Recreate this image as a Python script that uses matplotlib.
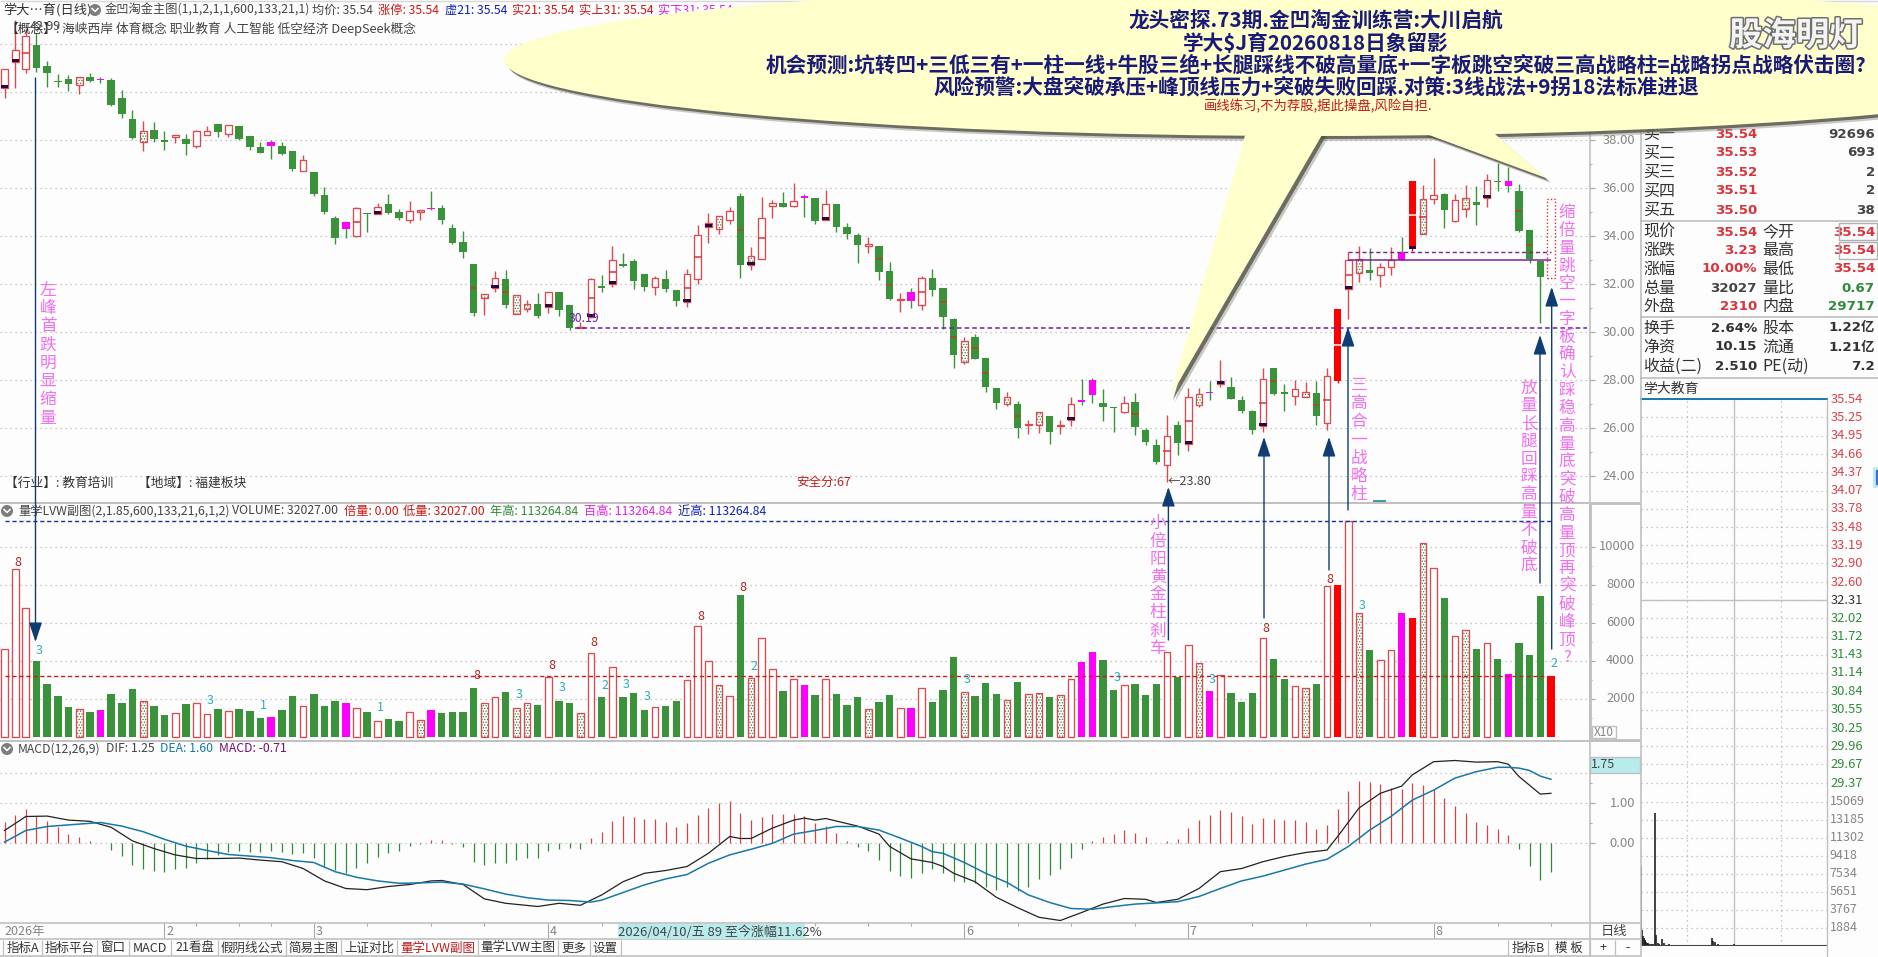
import matplotlib
matplotlib.use('Agg')
import matplotlib.pyplot as plt
from matplotlib.patches import Ellipse, Polygon, Rectangle, Circle
import matplotlib.patheffects as pe

plt.rcParams['font.family'] = ['Noto Sans CJK SC', 'DejaVu Sans']
plt.rcParams['hatch.linewidth'] = 0.6
plt.rcParams['axes.unicode_minus'] = False

# candles
body_top = [40.96,41.77,42.35,41.97,41.10,40.47,40.56,40.63,40.63,40.54,
            40.52,39.77,38.89,38.39,38.43,38.02,38.24,38.06,38.39,38.38,
            38.68,38.63,38.60,38.16,37.73,37.91,37.77,37.56,37.16,36.68,
            35.71,34.77,34.60,35.17,34.96,35.21,35.34,35.02,35.06,35.09,
            35.16,35.18,34.34,33.77,32.84,31.59,32.25,32.21,31.56,31.17,
            31.18,31.67,31.67,31.14,30.24,32.21,31.93,33.02,32.83,32.97,
            32.43,32.26,32.22,31.76,32.42,34.04,34.54,34.85,35.04,35.68,
            33.17,34.75,35.37,35.37,35.49,35.67,35.58,35.33,35.35,34.37,
            34.05,33.67,33.60,32.55,31.39,31.67,32.25,32.25,31.85,30.55,
            29.62,29.80,28.92,27.68,27.29,27.01,26.18,26.67,26.51,26.12,
            27.01,27.17,28.01,27.04,26.90,27.04,27.10,25.93,25.31,25.67,
            26.14,27.29,27.42,27.51,27.97,27.72,27.17,26.72,28.04,28.51,
            27.50,27.62,27.50,27.47,28.17,30.97,33.01,33.04,32.60,32.71,
            33.00,33.35,36.30,35.54,35.71,35.76,35.50,35.58,35.42,36.33,
            36.31,36.30,35.89,34.26,32.97,35.54]
body_bot = [40.17,41.28,40.96,41.03,40.82,40.43,40.35,40.29,40.46,40.52,
            39.47,39.10,38.10,37.95,38.06,37.91,38.13,37.85,37.78,38.21,
            38.35,38.28,38.06,37.73,37.49,37.78,37.43,36.81,36.74,35.77,
            35.02,33.91,34.32,34.00,34.91,34.92,34.99,34.77,34.68,35.00,
            35.13,34.70,33.72,33.35,30.82,31.42,31.84,31.14,30.78,30.99,
            30.68,31.07,30.91,30.17,30.19,30.63,31.86,32.00,32.76,32.15,
            31.90,31.87,31.80,31.32,31.28,32.21,34.40,34.29,34.69,32.82,
            32.82,33.07,35.28,35.22,35.26,35.61,34.65,34.69,34.39,34.10,
            33.64,33.61,32.51,31.39,31.36,31.30,31.15,31.76,30.64,29.05,
            28.78,28.89,27.72,27.05,27.03,26.01,26.15,26.15,25.85,26.08,
            26.36,27.11,27.39,26.90,26.86,26.69,26.07,25.44,24.60,24.46,
            25.40,25.35,26.99,27.48,27.86,27.24,26.74,25.94,26.11,27.43,
            27.44,27.36,27.32,26.51,26.21,27.99,31.80,32.46,32.47,32.40,
            32.71,33.01,33.49,34.08,35.54,35.11,34.65,35.12,35.32,35.61,
            36.28,36.11,34.22,33.05,32.32,32.28]
high = [40.96,43.02,42.67,42.46,41.31,40.77,40.72,40.63,40.79,40.64,
        40.59,40.10,39.27,38.81,38.77,38.39,38.24,38.27,38.43,38.60,
        38.68,38.63,38.60,38.18,37.95,38.02,37.93,37.56,37.39,36.68,
        36.06,34.85,34.60,35.21,34.96,35.38,35.77,35.13,35.47,35.09,
        35.89,35.29,34.53,34.22,32.84,31.59,32.56,32.60,31.56,31.35,
        31.63,31.67,31.67,31.14,30.45,32.25,32.39,33.60,33.32,33.04,
        32.43,32.35,32.60,31.76,32.62,34.47,34.96,34.85,35.21,35.79,
        33.55,35.62,35.51,35.85,36.21,35.75,35.58,35.93,35.35,34.54,
        34.12,33.99,33.60,32.92,31.62,31.83,32.35,32.62,31.85,30.61,
        29.82,29.92,28.92,27.68,27.53,27.12,26.35,26.67,26.51,26.35,
        27.32,28.04,28.08,27.62,26.90,27.35,27.46,26.00,25.54,26.55,
        26.31,27.67,27.67,27.97,28.85,28.14,27.36,26.76,28.50,28.51,
        27.83,28.01,27.94,27.99,28.50,30.97,33.36,33.60,33.50,32.87,
        33.54,33.99,36.30,36.14,37.25,35.79,35.75,36.14,36.10,36.60,
        37.04,36.90,36.17,34.26,32.97,35.54]
low = [39.78,40.20,40.82,40.86,40.24,40.24,40.07,39.91,40.45,40.38,
       39.41,38.92,38.04,37.57,37.95,37.60,37.88,37.39,37.67,38.21,
       38.14,38.14,38.02,37.60,37.49,37.24,37.39,36.73,36.71,35.66,
       34.95,33.68,33.91,33.99,34.16,34.92,34.91,34.68,34.57,34.68,
       35.10,34.53,33.68,33.10,30.70,30.72,31.66,31.03,30.75,30.86,
       30.61,30.79,30.66,30.10,30.19,30.59,31.70,31.88,32.71,31.80,
       31.74,31.55,31.69,31.10,31.07,32.01,33.74,34.10,34.51,32.26,
       32.60,33.07,34.76,35.21,35.21,34.82,34.53,34.69,34.18,33.90,
       32.90,33.32,32.18,31.35,30.85,31.03,30.93,31.51,30.12,28.53,
       28.68,28.89,27.53,26.80,26.93,25.61,25.76,25.82,25.35,25.76,
       26.10,26.97,27.07,26.31,25.86,26.62,25.72,25.31,24.50,23.78,
       24.90,25.05,26.90,27.18,27.74,27.24,26.65,25.76,25.86,27.39,
       26.72,26.97,27.32,26.14,25.93,27.87,30.55,32.11,32.18,31.90,
       32.40,33.01,33.40,34.08,35.33,34.36,34.61,34.80,34.47,35.24,
       35.89,35.86,34.19,32.90,30.37,32.28]
# r hollow up, g down, d dotted up, R solid red, m magenta
kinds = ("rrrggggdgm" "gggdggrgrr" "grgggmggrg" "ggmrgrggrd" "mggggdrgdd"
         "grggdrgrgg" "grggrrrdrg" "drrgrmgrgg" "gdggrmrggg" "dgggdgddgd"
         "rmmggrgggr" "grdmrgggrg" "grdgrRrdgr" "rmRdrgrdgr" "gmgggR")
mid_marks = [2,33,44,47,55,57,64,65,69,71,82,83,86,88,89,91,92,95,106,109,111,
             118,119,123,124,125,126,132,133,142,143]
low_marks = [0,1,35,46,51,55,57,64,66,70,77,100,111,114,118,126,132,139]

volume = [4595,8805,6753,3982,2771,2140,1561,1456,1298,1403,
          2245,1772,2508,1877,1614,1140,1228,1719,1754,1175,
          1456,1351,1456,1351,982,1035,1403,2140,1596,2245,
          1614,1877,1772,1508,1298,824,930,824,1280,877,
          1403,1245,1298,1298,2561,1754,2070,2350,1491,1754,
          1666,3122,1877,1772,1228,4385,2087,3683,2087,2298,
          1403,1544,1614,1877,2964,5806,3964,2719,2122,7455,
          3070,5174,3543,2403,3017,2719,2193,3017,2245,1666,
          2087,1456,1824,2193,1491,1508,2543,1824,2456,4192,
          2333,2140,2824,2245,1929,2877,2245,2280,2087,2175,
          3017,3929,4455,4034,2456,2701,2771,2193,2771,4455,
          3140,4806,3859,2403,3227,2280,1824,2298,5174,4087,
          3034,2649,2543,2771,7911,7981,11326,6490,4560,4017,
          4543,6507,6244,10173,8858,7297,5280,5595,4613,4911,
          4087,3298,4911,4297,7402,3203]
vol_tag_i = [1,3,19,24,35,44,48,51,52,55,56,58,60,65,69,70,90,104,113,118,124,127,145]
vol_tag_s = ['8','3','3','1','1','8','3','8','3','8','2','3','3','8','8','2','3','3','3','8','8','3','2']
vol_tag_v = [9173,4543,1894,1666,1544,3210,2228,3771,2596,4964,2719,2754,2105,6314,7858,
             3683,3017,3122,3034,5683,8279,6911,3859]

macd = [.54,.71,.86,.68,.56,.40,.23,.16,.06,0,
        -.17,-.32,-.54,-.63,-.69,-.71,-.64,-.61,-.50,-.40,
        -.29,-.22,-.19,-.22,-.21,-.19,-.21,-.27,-.25,-.37,
        -.60,-.67,-.73,-.61,-.50,-.33,-.23,-.19,-.06,-.01,
        .08,.09,-.01,-.08,-.47,-.54,-.50,-.50,-.42,-.37,
        -.36,-.18,-.14,-.12,-.14,.14,.29,.56,.68,.65,
        .61,.61,.53,.40,.50,.71,.88,1.02,1.06,.76,
        .58,.66,.73,.73,.73,.68,.50,.43,.27,.06,
        -.08,-.19,-.42,-.68,-.82,-.86,-.73,-.65,-.73,-.94,
        -.96,-1.0,-1.10,-1.17,-1.08,-1.19,-1.10,-.90,-.79,-.64,
        -.37,-.14,.06,.16,.24,.33,.26,.16,.01,.06,
        .11,.38,.58,.71,.83,.78,.68,.48,.63,.61,
        .58,.58,.53,.36,.46,.86,1.31,1.56,1.53,1.48,
        1.38,1.36,1.51,1.46,1.36,1.13,.93,.76,.53,.46,
        .36,.21,-.14,-.57,-.92,-.71]
dif_i = [0,2,4,6,8,10,12,14,16,18,20,22,24,26,28,30,32,34,36,38,40,41,43,45,47,50,52,54,56,58,
         60,62,64,66,68,69,70,72,74,75,76,77,80,82,83,85,87,88,89,91,93,95,97,99,101,103,105,107,108,110,
         112,114,116,118,120,122,124,125,127,129,131,132,134,136,138,140,141,142,144,145]
dif = [.32,.67,.68,.58,.55,.40,.06,-.13,-.29,-.38,-.38,-.37,-.42,-.46,-.63,-.94,-1.13,-1.16,-1.08,-1.03,
       -.94,-.93,-1.03,-1.39,-1.50,-1.58,-1.50,-1.55,-1.29,-.96,-.75,-.68,-.58,-.25,.17,.12,.12,.38,.58,.63,
       .58,.62,.43,.23,-.08,-.39,-.48,-.58,-.75,-.96,-1.35,-1.61,-1.85,-1.93,-1.73,-1.52,-1.38,-1.40,-1.48,-1.40,
       -1.13,-.71,-.63,-.46,-.33,-.23,-.17,.17,.88,1.25,1.43,1.71,2.04,2.07,2.03,2.04,1.98,1.67,1.23,1.25]
dea_i = [0,2,4,6,8,9,11,13,15,17,19,21,23,25,27,29,31,33,35,37,39,41,43,45,47,49,51,53,55,56,
         58,60,62,64,66,68,70,72,74,76,78,80,82,84,86,87,88,90,92,94,96,98,100,102,104,106,108,110,112,114,
         116,118,120,122,124,126,128,130,132,134,136,138,140,141,142,143,144,145]
dea = [.03,.32,.42,.46,.50,.52,.43,.29,.10,-.07,-.18,-.28,-.32,-.36,-.43,-.48,-.71,-.85,-.94,-1.0,
       -.99,-.97,-1.02,-1.14,-1.27,-1.36,-1.42,-1.43,-1.47,-1.42,-1.23,-1.04,-.89,-.78,-.50,-.29,-.15,0,.23,.32,
       .42,.42,.33,.13,-.08,-.21,-.25,-.48,-.75,-.98,-1.29,-1.48,-1.63,-1.65,-1.58,-1.52,-1.49,-1.46,-1.33,-1.13,
       -.94,-.82,-.67,-.52,-.40,-.08,.33,.67,1.08,1.33,1.63,1.79,1.90,1.90,1.88,1.82,1.68,1.60]

price_ticks = [24,26,28,30,32,34,36,38,40,42]
vol_ticks = [2000,4000,6000,8000,10000]
month_i = [15,29,51,90,111,134]
month_s = ['2','3','4','6','7','8']
minor_i = [18,22,25,34,40,45,56,76,81,85,95,100,106,117,122,128,140,145]

bal_lines = ['龙头密探.73期.金凹淘金训练营:大川启航', '学大$J育20260818日象留影',
             '机会预测:坑转凹+三低三有+一柱一线+牛股三绝+长腿踩线不破高量底+一字板跳空突破三高战略柱=战略拐点战略伏击圈?',
             '风险预警:大盘突破承压+峰顶线压力+突破失败回踩.对策:3线战法+9拐18法标准进退']
tabs = ['指标A','指标平台','窗口','MACD','21看盘','假阴线公式','简易主图','上证对比','量学LVW副图','量学LVW主图','更多','设置']

buy_name = ['买一','买二','买三','买四','买五']
buy_price = ['35.54','35.53','35.52','35.51','35.50']
buy_size = ['92696','693','2','2','38']

min_price_red = [35.54,35.25,34.95,34.66,34.37,34.07,33.78,33.48,33.19,32.90,32.60]
min_price_green = [32.02,31.72,31.43,31.14,30.84,30.55,30.25,29.96,29.67,29.37]
min_vol_ticks = [1884,3767,5651,7534,9418,11302,13185,15069]
min_i = [0,1,2,3,4,5,6,7,8,9,10,12,14,16,19,20,22,24,27,30,36,42,50,60,70,80,92,93,96,100,
         110,120,130,140,150,160,170,180,190,200,210,220,230,239]
min_v = [8354,3000,1700,1000,800,600,500,400,300,250,300,250,200,200,13920,1100,300,250,700,300,200,150,150,150,150,150,800,500,400,200,
         150,200,150,120,150,120,100,150,120,100,100,120,100,150]

W, H = 1878, 957
GREEN, HOLLOW, GRAY = '#3A923A', '#DC4A50', '#C0C0C0'
NAVY, PINK = '#0E3D73', '#F070F0'

fig = plt.figure(figsize=(W/100, H/100), dpi=100, facecolor='#FDFDFD')

def px_axes(x0, y0, x1, y1, z=1):
    ax = fig.add_axes([x0/W, 1-y1/H, (x1-x0)/W, (y1-y0)/H], zorder=z)
    ax.patch.set_alpha(0)
    for s in ax.spines.values():
        s.set_visible(False)
    return ax

n = len(volume)
xs = list(range(n))
xlim = (-0.422, 148.57)

def dotted(ax, y):
    ax.axhline(y, color='#B4B4B4', lw=0.9, ls=(0, (1, 3)), zorder=0)

def right_axis(ax, ticks, minors, fmt):
    ax.set_xlim(*xlim)
    ax.set_xticks([])
    ax.yaxis.tick_right()
    ax.set_yticks(ticks)
    ax.set_yticks(minors, minor=True)
    ax.tick_params(axis='y', which='major', length=4.4, width=.8, color='#A8A8A8', labelright=False)
    ax.tick_params(axis='y', which='minor', length=2.4, width=.8, color='#A8A8A8', labelright=False)
    for tk in ticks:
        dotted(ax, tk)
        ax.text(1635/1589, tk, fmt(tk), transform=ax.get_yaxis_transform(), ha='right', va='center',
                color='#858585', fontsize=9.3)

def draw_bars(ax, x, bottom, height, kind_list, width=0.63):
    # common bar drawing for candles and volume
    for k, col in (('g', GREEN), ('R', '#FF0000'), ('m', '#FF00FF')):
        idx = [j for j, q in enumerate(kind_list) if q == k]
        ax.bar([x[j] for j in idx], [height[j] for j in idx], width + .07, [bottom[j] for j in idx],
               color=col, lw=0, zorder=3)
    idx = [j for j, q in enumerate(kind_list) if q == 'r']
    ax.bar([x[j] for j in idx], [height[j] for j in idx], width, [bottom[j] for j in idx],
           facecolor='#FFFFFF', edgecolor=HOLLOW, lw=.95, zorder=3)
    idx = [j for j, q in enumerate(kind_list) if q == 'd']
    bx = [x[j] for j in idx]
    bh = [height[j] for j in idx]
    bb = [bottom[j] for j in idx]
    ax.bar(bx, bh, width, bb, facecolor='#FFFFFF', edgecolor='#2E7D32', hatch='......', lw=0, zorder=3)
    ax.bar(bx, bh, width, bb, fill=False, edgecolor=HOLLOW, lw=.95, zorder=4)

# main panel
ax = px_axes(0, 0, 1589, 502.7, 2)
ax.set_ylim(24 + (476.3-502.7)/24, 24 + 476.3/24)
right_axis(ax, price_ticks[:8], [25,27,29,31,33,35,37], lambda v: '%.2f' % v)
for tk in price_ticks[8:]:
    dotted(ax, tk)
wick_col = [GREEN if k in 'gm' else ('#FF0000' if k == 'R' else HOLLOW) for k in kinds]
ax.vlines(xs[:-1], low[:-1], high[:-1], colors=wick_col[:-1], lw=1.0, zorder=2)
heights = [max(a-b, .03) for a, b in zip(body_top, body_bot)]
draw_bars(ax, xs[:-1], body_bot[:-1], heights[:-1], kinds[:-1])
m_i = [i for i, k in enumerate(kinds) if k == 'm']
ax.bar(m_i, [heights[i]*.55 for i in m_i], .7, [body_top[i]-heights[i]*.55 for i in m_i],
       color='#FF00FF', lw=0, zorder=4)
for i in mid_marks:
    c = '#FFFFFF' if kinds[i] == 'R' else ('#B5451F' if kinds[i] == 'g' else '#D8343C')
    y = (body_top[i]+body_bot[i])/2
    ax.hlines(y, i-.33, i+.33, color=c, lw=1.1, zorder=5)
for i in low_marks:
    ax.bar(i, .12, .68, body_bot[i], color='#2A0A3C', lw=0, zorder=5)
# last bar is a dotted drawing box
ax.add_patch(Rectangle((145-.38, body_bot[145]), .76, body_top[145]-body_bot[145], fill=False,
                       ec='#E03030', lw=1, ls=(0, (1, 1.5)), zorder=4))
ax.hlines(30.17, 53.5, 148.4, color='#6A1FA8', lw=1.1, ls=(0, (3, 2)), zorder=5)
ax.hlines(33.36, 126, 145, color='#7A2590', lw=1.0, ls=(0, (3, 2)), zorder=5)
ax.hlines(33.01, 126, 145.0, color='#7A2590', lw=1.1, zorder=5)

# volume panel
axv = px_axes(0, 502.7, 1589, 740, 2)
axv.set_ylim(-174, 12308)
right_axis(axv, vol_ticks, [1000,3000,5000,7000,9000], lambda v: '%d' % v)
draw_bars(axv, xs, [0]*n, volume, kinds)
axv.hlines(11326, 0, 145.1, color='#1A2FA0', lw=1.0, ls=(0, (3, 2)), zorder=5)
axv.hlines(3203, 0, 145.1, color='#C02020', lw=1.0, ls=(0, (3, 2)), zorder=5)
for i, s, v in zip(vol_tag_i, vol_tag_s, vol_tag_v):
    axv.text(i+.28, v, s, color='#B02020' if s == '8' else '#2AAFB5', fontsize=9, ha='center', va='center', zorder=6)

# macd panel
axm = px_axes(0, 740, 1589, 923, 2)
axm.set_ylim((843.3-923)/40, (843.3-740)/40)
right_axis(axm, [0, 1], [.5, 1.5], lambda v: '%.2f' % v)
dotted(axm, 1.75)
macd_col = ['#D8434B' if v > 0 else '#2E8B3A' for v in macd]
axm.vlines(xs, 0, macd, colors=macd_col, lw=.9, zorder=2)
axm.plot(dif_i, dif, color='#222222', lw=.9, zorder=3)
axm.plot(dea_i, dea, color='#1878A8', lw=1.1, zorder=3)

# date strip
axd = px_axes(0, 923, 1589, 939, 2)
axd.set_xlim(*xlim)
axd.set_ylim(1, 0)
axd.set_xticks([])
axd.set_yticks([])
axd.vlines(month_i, 0, 1, color='#A8A8A8', lw=.8)
axd.vlines(minor_i, 0, .2, color='#A8A8A8', lw=.8)
for i, s in zip(month_i, month_s):
    axd.text(i+.15, .55, s, color='#858585', fontsize=9, va='center')

# minute chart, price part
axp = px_axes(1640.7, 399.3, 1827.3, 801.7, 2)
axp.set_xlim(0, 240)
axp.set_ylim(29.07, 35.54)
axp.set_xticks([])
axp.set_yticks([])
for v in min_price_red + [32.31] + min_price_green:
    dotted(axp, v)
    col = '#D8434B' if v > 32.31 else ('#2E8B3A' if v < 32.31 else '#333333')
    axp.text(1.018, v, '%.2f' % v, transform=axp.get_yaxis_transform(), color=col, fontsize=9.3, va='center')
axp.axhline(32.31, color=GRAY, lw=1)
axp.vlines(120, 29.07, 35.54, color=GRAY, lw=1)
axp.vlines([60, 180], 29.07, 35.54, color='#B4B4B4', lw=.9, ls=(0, (1, 3)))
axp.plot([0, 239], [35.54, 35.54], color='#1878A8', lw=1.4, clip_on=False)

# minute chart, volume part
axq = px_axes(1640.7, 801.7, 1827.3, 946, 2)
axq.set_xlim(0, 240)
axq.set_ylim(0, 15069)
axq.set_xticks([])
axq.set_yticks([])
for v in min_vol_ticks:
    dotted(axq, v)
    axq.text(1.012, v, str(v), transform=axq.get_yaxis_transform(), color='#858585', fontsize=9, va='center')
axq.vlines(120, 0, 15069, color=GRAY, lw=1)
axq.vlines([60, 180], 0, 15069, color='#B4B4B4', lw=.9, ls=(0, (1, 3)))
axq.vlines(min_i, 0, min_v, color='#222222', lw=1.2)
axq.axhline(0, color='#444444', lw=1.5)

# overlay in pixel units: frame, texts, callout, arrows
ov = fig.add_axes([0, 0, 1, 1], zorder=5)
ov.set_xlim(0, W)
ov.set_ylim(H, 0)
ov.axis('off')
ov.patch.set_alpha(0)

def t(x, y, s, c='#444444', size=9, ha='left', weight='normal', z=3, **kw):
    return ov.text(x, y, s, color=c, fontsize=size, ha=ha, va='center', fontweight=weight, zorder=z, **kw)

def line(x0, y0, x1, y1, c=GRAY, lw=1.0, z=2):
    ov.plot([x0, x1], [y0, y1], color=c, lw=lw, zorder=z, solid_capstyle='butt')

def icon(x, y):
    ov.add_patch(Circle((x, y), 6, fc='#7D7D7D', ec='none', zorder=3))
    ov.plot([x-3, x, x+3], [y-1.5, y+1.5, y-1.5], color='white', lw=1.1, zorder=4)

line(0, 1, 1878, 1, '#D8D8D8')
line(0, 502.7, 1589, 502.7, GRAY, 1.4)
line(0, 740.5, 1640, 740.5, GRAY, 1.4)
line(0, 923, 1640, 923, GRAY, 1.2)
line(0, 939, 1640, 939, GRAY, 1.2)
line(0, 955.5, 1640, 955.5, GRAY, 1.2)
line(1589.5, 15, 1589.5, 957, GRAY, 1.2)
line(1590, 502.7, 1640, 502.7, GRAY, 2)
line(1590, 502.7, 1590, 740, GRAY, 2)
line(1590, 740, 1640, 740, GRAY, 2)
line(1640.5, 110, 1640.5, 957, GRAY, 1.2)
for yy in (220.7, 317.3, 378):
    line(1640, yy, 1878, yy, '#B8B8B8', 1.1)
line(1827.3, 399, 1827.3, 957, GRAY, 1.0)
line(1373, 501, 1386, 501, '#1A8A8A', 1.2)

# headers
t(3, 10, '学大…育(日线)', '#333333', 9.5)
icon(95, 10)
t(105, 10, '金凹淘金主图(1,1,2,1,1,600,133,21,1)', '#444444', 8.8)
t(312, 10, '均价: 35.54', '#444444', 8.8)
t(378, 10, '涨停: 35.54', '#C81818', 8.8)
t(445, 10, '虚21: 35.54', '#1020B0', 8.8)
t(512, 10, '实21: 35.54', '#C81818', 8.8)
t(579, 10, '实上31: 35.54', '#C81818', 8.8)
t(658, 10, '实下31: 35.54', '#E020E0', 8.8)
t(5, 29, '【概念】:', '#333333', 9.2)
t(30, 27, '42.99', '#444444', 9)
t(62, 29, '海峡西岸 体育概念 职业教育 人工智能 低空经济 DeepSeek概念', '#444444', 9.2)
t(5, 483, '【行业】: 教育培训', '#333333', 9.2)
t(138, 483, '【地域】: 福建板块', '#333333', 9.2)
t(796, 482, '安全分:67', '#C02020', 9)
t(569, 318, '30.19', '#6A1FA8', 8.8)
t(1168, 481.5, '←23.80', '#444444', 9)
icon(7, 511)
t(18, 511, '量学LVW副图(2,1.85,600,133,21,6,1,2)', '#444444', 8.8)
t(232, 511, 'VOLUME: 32027.00', '#444444', 8.8)
t(344, 511, '倍量: 0.00', '#C81818', 8.8)
t(403, 511, '低量: 32027.00', '#C81818', 8.8)
t(490, 511, '年高: 113264.84', '#2E8B3A', 8.8)
t(584, 511, '百高: 113264.84', '#E020E0', 8.8)
t(678, 511, '近高: 113264.84', '#1020B0', 8.8)
icon(7, 749)
t(18, 749, 'MACD(12,26,9)', '#444444', 8.8)
t(106, 749, 'DIF: 1.25', '#444444', 8.8)
t(160, 749, 'DEA: 1.60', '#1878A8', 8.8)
t(219, 749, 'MACD: -0.71', '#701070', 8.8)

# x10 box and 1.75 tag
ov.add_patch(Rectangle((1592, 726), 23.7, 12, fc='none', ec=GRAY, lw=1, zorder=3))
t(1603.5, 732.5, 'X10', '#858585', 8.5, ha='center')
ov.add_patch(Rectangle((1590, 757), 50, 16, fc='#B8ECEC', ec=GRAY, lw=1, zorder=3))
t(1591, 765, '1.75', '#444444', 9)
t(1614, 932, '日线', '#444444', 9.5, ha='center')

# date strip texts
t(4, 932, '2026年', '#858585', 9)
ov.add_patch(Rectangle((617.5, 924), 187.5, 15, fc='#B8ECEC', ec='none', zorder=3))
t(618, 932, '2026/04/10/五 89 至今涨幅11.62%', '#444444', 9.4, z=4)

# tab bar
tab_x = [3, 42, 97, 129, 171, 218, 286, 341, 397, 478, 558, 590, 620.5]
for k, s in enumerate(tabs):
    t((tab_x[k]+tab_x[k+1])/2, 948, s, '#C01818' if k == 8 else '#333333', 9, ha='center')
    line(tab_x[k], 940, tab_x[k], 955, GRAY, .9)
line(620.5, 940, 620.5, 955, GRAY, .9)
for x0, x1, s in ((1508, 1548, '指标B'), (1548, 1590, '模 板'), (1590, 1615, '+'), (1615, 1640, '-')):
    line(x0, 940, x0, 955, GRAY, .9)
    t((x0+x1)/2, 948, s, '#333333', 9, ha='center')

# quote table
rows = [134, 153, 172, 191, 210]
for y, a, b, c in zip(rows, buy_name, buy_price, buy_size):
    t(1643, y, a, '#333333', 11.5)
    t(1757, y, b, '#D8343C', 9.6, ha='right', weight='bold', family=['DejaVu Sans'])
    t(1875, y, c, '#444444', 9.6, ha='right', weight='bold', family=['DejaVu Sans'])
qrows = [(232, '现价', '35.54', '#D8343C', '今开', '35.54', '#D8343C'),
         (250, '涨跌', '3.23', '#D8343C', '最高', '35.54', '#D8343C'),
         (269, '涨幅', '10.00%', '#D8343C', '最低', '35.54', '#D8343C'),
         (288, '总量', '32027', '#444444', '量比', '0.67', '#2E8B3A'),
         (307, '外盘', '2310', '#D8343C', '内盘', '29717', '#2E8B3A'),
         (328, '换手', '2.64%', '#333333', '股本', '1.22亿', '#333333'),
         (347, '净资', '10.15', '#333333', '流通', '1.21亿', '#333333'),
         (366, '收益(二)', '2.510', '#333333', 'PE(动)', '7.2', '#333333')]
for y, a, b, bc, c, d, dc in qrows:
    t(1643, y, a, '#333333', 11.5)
    t(1757, y, b, bc, 9.6, ha='right', weight='bold', family=['DejaVu Sans', 'Noto Sans CJK SC'])
    t(1762, y, c, '#333333', 11.5)
    t(1875, y, d, dc, 9.6, ha='right', weight='bold', family=['DejaVu Sans', 'Noto Sans CJK SC'])
for y0 in (223, 241.5):
    ov.add_patch(Rectangle((1839, y0), 38, 17, fc='none', ec='#B0B0B0', lw=1, zorder=3))
t(1643, 389, '学大教育', '#333333', 10)
ov.add_patch(Rectangle((1874, 468), 6, 18, fc='#3B6FE0', ec='#BDEBF0', lw=2, zorder=3))

# callout
cx, cy, ra, rb = 1312, 60, 808, 76
tail_a = [(1248, 125), (1170, 397), (1326, 128)]
tail_b = [(1410, 128), (1546, 178), (1488, 128)]
for dx, dy, fc, al in ((5, 5, '#8A8A80', .45), (3, 3, '#55554A', .8)):
    ov.add_patch(Ellipse((cx+dx, cy+dy), 2*ra, 2*rb, fc=fc, ec='none', alpha=al, zorder=10))
    for tail in (tail_a, tail_b):
        ov.add_patch(Polygon([(x+dx, y+dy) for x, y in tail], fc=fc, ec='none', alpha=al, zorder=10))
ov.add_patch(Ellipse((cx, cy), 2*ra, 2*rb, fc='#FFFFCC', ec='none', zorder=11))
for tail in (tail_a, tail_b):
    ov.add_patch(Polygon(tail, fc='#FFFFCC', ec='none', zorder=11))
for y, s in zip((21, 43, 65, 87), bal_lines):
    t(1316, y, s, '#1A1A78', 14.9, ha='center', weight='bold', z=12)
t(1318, 106, '画线练习,不为荐股,据此操盘,风险自担.', '#C01818', 9.6, ha='center', z=12)
wm = t(1796, 36, '股海明灯', '#F4F4F4', 24, ha='center', weight='bold', z=13)
wm.set_path_effects([pe.withStroke(linewidth=2.2, foreground='#707070')])

# arrows
arrows = [(35.5, 78, 35.5, 642), (1168.4, 640, 1168.4, 487), (1264, 618, 1264, 437), (1329, 570, 1329, 437),
          (1348, 510, 1348, 327), (1540, 583, 1540, 335), (1551.7, 649, 1551.7, 287)]
for x0, y0, x1, y1 in arrows:
    ov.annotate('', xy=(x1, y1), xytext=(x0, y0), zorder=8,
                arrowprops=dict(arrowstyle='-|>,head_length=0.6,head_width=0.2', color=NAVY, lw=1.0,
                                shrinkA=0, shrinkB=0, mutation_scale=20))

# vertical notes
notes = [('左峰首跌明显缩量', 48, 290, 18.3), ('小倍阳黄金柱刹车', 1158, 523, 18),
         ('三高合一战略柱', 1359, 385, 18.3), ('放量长腿回踩高量不破底', 1529, 388, 17.8),
         ('缩倍量跳空一字板确认踩稳高量底突破高量顶再突破峰顶?', 1567, 212.7, 17.8)]
for s, x, y0, step in notes:
    for k, ch in enumerate(s):
        t(x, y0+k*step, ch, PINK, 12, ha='center', z=9)

fig.savefig('out.png', dpi=100, facecolor=fig.get_facecolor())
